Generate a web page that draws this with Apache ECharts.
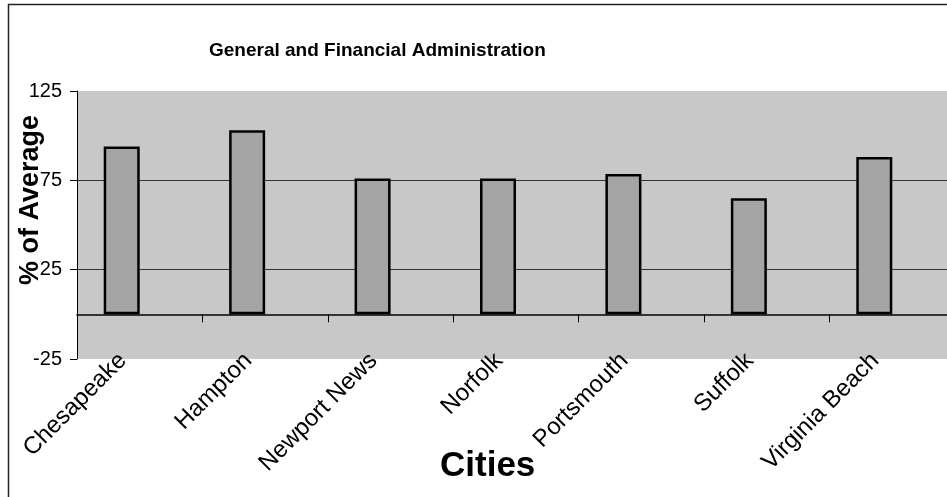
<!DOCTYPE html>
<html>
<head>
<meta charset="utf-8">
<script src="https://cdn.jsdelivr.net/npm/echarts@6/dist/echarts.min.js"></script>
<style>
html,body{margin:0;padding:0;background:#fff;}
#chart{width:947px;height:497px;}
</style>
</head>
<body>
<div id="chart"></div>
<script>
const chartTitle = 'General and Financial Administration';
const xAxisTitle = 'Cities';
const yAxisTitle = '% of Average';
const cities = ['Chesapeake', 'Hampton', 'Newport News', 'Norfolk', 'Portsmouth', 'Suffolk', 'Virginia Beach'];
const pctOfAverage = [94, 103, 76, 76, 78.5, 65, 88];
const yMin = -25, yMax = 125, yStep = 50;

const chart = echarts.init(document.getElementById('chart'));
chart.setOption({
  animation: false,
  backgroundColor: '#fff',
  textStyle: { fontFamily: 'Liberation Sans, Arial, sans-serif', color: '#000' },
  graphic: [{
    type: 'rect', silent: true, z: -1,
    shape: { x: 8.5, y: 4.5, width: 1000, height: 600 },
    style: { fill: 'none', stroke: '#222', lineWidth: 1.5 }
  }],
  title: [{
    text: chartTitle, left: 204, top: 36,
    textStyle: { fontSize: 19, fontWeight: 'bold', color: '#000', fontFamily: 'Liberation Sans, Arial, sans-serif' }
  }, {
    text: xAxisTitle, left: 435, top: 444,
    textStyle: { fontSize: 35, fontWeight: 'bold', color: '#000', fontFamily: 'Liberation Sans, Arial, sans-serif' }
  }],
  grid: {
    left: 77, top: 91, width: 878, height: 268,
    outerBoundsMode: 'none', containLabel: false,
    show: true, backgroundColor: '#c8c8c8', borderWidth: 0
  },
  xAxis: [{
    type: 'category', data: cities, position: 'bottom',
    axisLine: { show: false, onZero: false },
    axisTick: { show: false },
    axisLabel: {
      interval: 0, rotate: 45, fontSize: 24, color: '#000', margin: -19,
      padding: [0, 24, 0, 0]
    },
    splitLine: { show: false }
  }, {
    type: 'category', data: cities, position: 'bottom',
    axisLine: { show: true, onZero: true, lineStyle: { color: '#000', width: 1.5 } },
    axisTick: { show: true, length: 8, lineStyle: { color: '#000', width: 1 } },
    axisLabel: { show: false },
    splitLine: { show: false }
  }],
  yAxis: {
    type: 'value', min: yMin, max: yMax, interval: yStep,
    name: yAxisTitle, nameLocation: 'middle', nameGap: 33, nameMoveOverlap: false,
    nameTextStyle: { fontSize: 27, fontWeight: 'bold', color: '#000', padding: [0, 0, 0, 50] },
    axisLine: { show: true, lineStyle: { color: '#000', width: 1 } },
    axisTick: { show: true, length: 7, lineStyle: { color: '#000' } },
    axisLabel: { fontSize: 20, color: '#000', margin: 15 },
    splitLine: { show: true, showMinLine: false, showMaxLine: false, lineStyle: { color: '#333', width: 1 } }
  },
  series: [{
    name: yAxisTitle, type: 'bar', data: pctOfAverage, barWidth: 36, barGap: '0%',
    itemStyle: { color: '#a4a4a4', borderColor: '#000', borderWidth: 2.5 }
  }, {
    name: 'spacer', type: 'bar', data: [], barWidth: 36, barGap: '0%'
  }]
});
</script>
</body>
</html>
